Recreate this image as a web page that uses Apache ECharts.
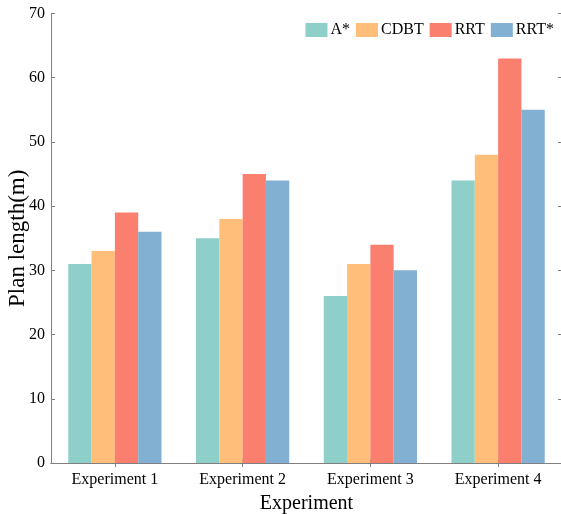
<!DOCTYPE html>
<html><head><meta charset="utf-8">
<script src="https://cdn.jsdelivr.net/npm/echarts@6/dist/echarts.min.js"></script>
<style>html,body{margin:0;padding:0;background:#fff}#c{width:561px;height:514px}</style>
</head><body><div id="c"></div>
<script>
const categories = ['Experiment 1', 'Experiment 2', 'Experiment 3', 'Experiment 4'];
const seriesNames = ['A*', 'CDBT', 'RRT', 'RRT*'];
const aStar = [31, 35, 26, 44];
const cdbt = [33, 38, 31, 48];
const rrt = [39, 45, 34, 63];
const rrtStar = [36, 44, 30, 55];
const colors = ['#8ECFC9', '#FFBE7A', '#FA7F6F', '#82B0D2'];
const font = 'Liberation Serif, Times New Roman, serif';
const axisColor = '#808080';
const values = [aStar, cdbt, rrt, rrtStar];

const chart = echarts.init(document.getElementById('c'));
chart.setOption({
  animation: false,
  color: colors,
  textStyle: { fontFamily: font },
  grid: { left: 51, right: -1, top: 13.5, bottom: 51, containLabel: false, outerBoundsMode: 'none' },
  legend: {
    data: seriesNames, right: 2, top: 17, itemWidth: 22, itemHeight: 14, itemGap: 6,
    icon: 'rect',
    textStyle: { fontFamily: font, fontSize: 16, color: '#000', padding: [0, 0, 0, -2] }
  },
  xAxis: [{
    type: 'category', data: categories,
    name: 'Experiment', nameLocation: 'middle', nameGap: 31, nameMoveOverlap: false,
    nameTextStyle: { fontFamily: font, fontSize: 20, color: '#000' },
    axisLine: { lineStyle: { color: axisColor, width: 1 } },
    axisTick: { show: true, inside: true, alignWithLabel: true, length: 4, lineStyle: { color: axisColor } },
    axisLabel: { fontFamily: font, fontSize: 16, color: '#000', margin: 9 },
  }, {
    type: 'category', data: categories, position: 'top',
    axisLine: { show: true, lineStyle: { color: axisColor, width: 1 } },
    axisTick: { show: true, inside: true, alignWithLabel: true, length: 4, lineStyle: { color: axisColor } },
    axisLabel: { show: false }
  }],
  yAxis: [{
    type: 'value', min: 0, max: 70, interval: 10,
    name: 'Plan length(m)', nameLocation: 'middle', nameGap: 22, nameMoveOverlap: false,
    nameTextStyle: { fontFamily: font, fontSize: 23, color: '#000' },
    axisLine: { show: true, lineStyle: { color: axisColor, width: 1 } },
    axisTick: { show: true, inside: true, length: 4, lineStyle: { color: axisColor } },
    axisLabel: { fontFamily: font, fontSize: 16, color: '#000', margin: 6 },
    splitLine: { show: false }
  }, {
    type: 'value', min: 0, max: 70, interval: 10, position: 'right',
    axisLine: { show: true, lineStyle: { color: axisColor, width: 1 } },
    axisTick: { show: true, inside: true, length: 4, lineStyle: { color: axisColor } },
    axisLabel: { show: false }, splitLine: { show: false }
  }],
  series: seriesNames.map((n, i) => ({
    name: n, type: 'bar', data: values[i], barGap: '0%', barCategoryGap: '27%',
    xAxisIndex: 0, yAxisIndex: 0, itemStyle: { color: colors[i] }
  }))
});
</script></body></html>
